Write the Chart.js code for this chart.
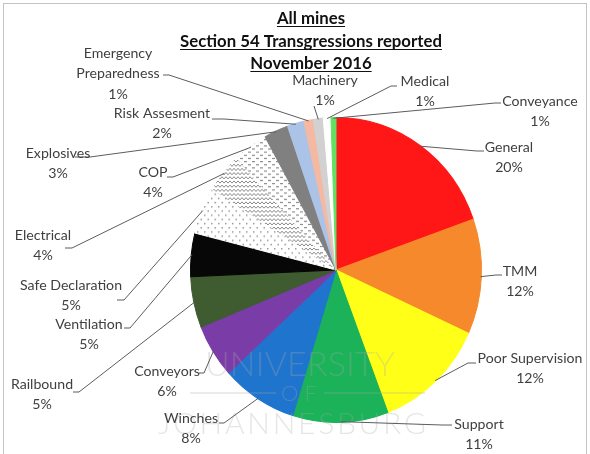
<!DOCTYPE html>
<html><head><meta charset="utf-8">
<script src="https://cdn.jsdelivr.net/npm/chart.js@4.4.0/dist/chart.umd.min.js"></script>
<style>
html,body{margin:0;padding:0;background:#fff;}
#wrap{position:relative;width:590px;height:454px;overflow:hidden;}
canvas{position:absolute;left:0;top:0;}
#frame{position:absolute;left:3px;top:3px;width:584px;height:480px;border:1px solid #c4c4c4;box-sizing:border-box;pointer-events:none;}
</style></head><body>
<div id="wrap"><canvas id="c" width="590" height="454"></canvas><div id="frame"></div></div>
<script>
// ---- data ----
const titleLines = ['All mines', 'Section 54 Transgressions reported', 'November 2016'];
const categories = ['General','TMM','Poor Supervision','Support','Winches','Conveyors','Railbound','Ventilation','Safe Declaration','Electrical','COP','Explosives','Risk Assesment','Emergency Preparedness','Machinery','Medical','Conveyance'];
const shares = [19.6, 12.2, 12.4, 10.6, 8.4, 5.7, 5.4, 4.6, 5.0, 4.2, 3.8, 2.7, 1.85, 1.05, 1.1, 0.85, 0.55];
const watermarkLines = ['UNIVERSITY', 'OF', 'JOHANNESBURG'];

// ---- styles ----
const sliceFills = ['#FF1616','#F6892C','#FFFF17','#1BB25A','#1F74CE','#7A3DA7','#3F5B30','#070707','dots','zigzag','dashes','#808080','#AAC3E6','#F5B8A3','#D1D1D1','#FFFFFF','#63E063'];
// label text placement (name centre) and leader attach point
const labelLayout = [
 {x:509,y:147,ax:484,ay:151,ex:-7},
 {x:520,y:271,ax:502,ay:275,ex:-6},
 {x:530,y:358,ax:476,ay:363,ex:-8},
 {x:479,y:424,ax:452,ay:425,ex:-10},
 {x:191,y:418,ax:219,ay:423,ex:5},
 {x:167,y:371,ax:199,ay:373,ex:5},
 {x:42,y:384,ax:73,ay:392,ex:6},
 {x:89,y:324,ax:124,ay:328,ex:6},
 {x:71,y:285,ax:117,ay:300,ex:7},
 {x:43,y:235,ax:65,ay:248,ex:7},
 {x:153,y:172,ax:167,ay:177,ex:6},
 {x:58,y:153,ax:75,ay:157,ex:15},
 {x:162,y:113,ax:212,ay:119,ex:12},
 {x:118,y:53,ax:163,ay:75,ex:6},
 {x:325,y:80,ax:314,ay:106,ex:0},
 {x:425,y:81,ax:397,ay:86,ex:-6},
 {x:540,y:101,ax:501,ay:103,ex:-6}
];
const SY = 1.048;        // vertical stretch of the pie in the reference
const LINE_H = 20.5;

function makePattern(kind){
  const c = document.createElement('canvas');
  const g = c.getContext('2d');
  if (kind === 'dots'){
    c.width = 7; c.height = 8;
    g.fillStyle = '#fff'; g.fillRect(0,0,7,8);
    g.fillStyle = '#8e8e8e';
    g.fillRect(1,1,1.4,1.4); g.fillRect(4.5,5,1.4,1.4);
  } else if (kind === 'zigzag'){
    c.width = 4; c.height = 4;
    g.fillStyle = '#fff'; g.fillRect(0,0,4,4);
    g.strokeStyle = '#7d7d7d'; g.lineWidth = 0.9;
    g.beginPath(); g.moveTo(0,3); g.lineTo(2,1); g.lineTo(4,3); g.stroke();
  } else {
    c.width = 8; c.height = 6;
    g.fillStyle = '#fff'; g.fillRect(0,0,8,6);
    g.fillStyle = '#8a8a8a';
    g.fillRect(0,1,3,1.1); g.fillRect(4,4,3,1.1);
  }
  return g.createPattern(c, 'repeat');
}
const fills = sliceFills.map(f => (f === 'dots' || f === 'zigzag' || f === 'dashes') ? makePattern(f) : f);

function fitSize(ctx, weight, family, text, target){
  ctx.font = weight + ' 100px ' + family;
  return 100 * target / ctx.measureText(text).width;
}

const stretch = {
  id: 'stretch',
  beforeDatasetsDraw(chart){
    const a = chart.getDatasetMeta(0).data[0];
    const ctx = chart.ctx;
    ctx.save();
    ctx.translate(0, a.y); ctx.scale(1, SY); ctx.translate(0, -a.y);
  },
  afterDatasetsDraw(chart){ chart.ctx.restore(); }
};

const overlay = {
  id: 'overlay',
  afterDraw(chart){
    const ctx = chart.ctx;
    const meta = chart.getDatasetMeta(0);
    const data = chart.data.datasets[0].data;
    const total = data.reduce((s,v)=>s+v,0);
    const fam = 'Lato, "Open Sans", sans-serif';

    // watermark
    ctx.save();
    ctx.fillStyle = 'rgba(170,170,170,0.30)';
    ctx.strokeStyle = 'rgba(170,170,170,0.30)';
    ctx.textAlign = 'left'; ctx.textBaseline = 'middle';
    const wm = [{t:watermarkLines[0], x:205, w:190, y:365, s:34},
                {t:watermarkLines[1], x:281, w:36, y:394, s:22},
                {t:watermarkLines[2], x:158, w:268, y:424, s:30}];
    wm.forEach(o => {
      ctx.font = '300 ' + o.s + 'px ' + fam;
      ctx.letterSpacing = '0px';
      const w0 = ctx.measureText(o.t).width;
      const sp = (o.w - w0) / Math.max(1, o.t.length - 1);
      ctx.letterSpacing = sp.toFixed(2) + 'px';
      ctx.fillText(o.t, o.x, o.y);
    });
    ctx.letterSpacing = '0px';
    ctx.lineWidth = 1.5;
    ctx.beginPath(); ctx.moveTo(190,393); ctx.lineTo(276,393); ctx.moveTo(324,393); ctx.lineTo(425,393); ctx.stroke();
    ctx.restore();

    // title
    ctx.save();
    const ts = fitSize(ctx, 'bold', fam, titleLines[1], 262);
    ctx.font = 'bold ' + ts.toFixed(2) + 'px ' + fam;
    ctx.fillStyle = '#111'; ctx.strokeStyle = '#111'; ctx.lineWidth = 1;
    ctx.textAlign = 'center'; ctx.textBaseline = 'middle';
    const tys = [19, 41.5, 63.5];
    titleLines.forEach((t,i) => {
      ctx.fillText(t, 311, tys[i]);
      const w = ctx.measureText(t).width;
      ctx.beginPath(); ctx.moveTo(311 - w/2, Math.round(tys[i] + 7) + 0.5); ctx.lineTo(311 + w/2, Math.round(tys[i] + 7) + 0.5); ctx.stroke();
    });
    ctx.restore();

    // leader lines
    ctx.save();
    ctx.strokeStyle = '#5c5c5c'; ctx.lineWidth = 1;
    meta.data.forEach((arc, i) => {
      const L = labelLayout[i];
      const mid = (arc.startAngle + arc.endAngle) / 2;
      const r = arc.outerRadius * 0.995;
      const ex = arc.x + r * Math.cos(mid);
      const ey = arc.y + r * Math.sin(mid) * SY;
      ctx.beginPath();
      ctx.moveTo(L.ax, L.ay);
      if (L.ex) ctx.lineTo(L.ax + L.ex, L.ay);
      ctx.lineTo(ex, ey);
      ctx.stroke();
    });
    ctx.restore();

    // labels
    ctx.save();
    const ls = fitSize(ctx, 'normal', fam, 'Poor Supervision', 105);
    ctx.font = ls.toFixed(2) + 'px ' + fam;
    ctx.fillStyle = '#3f3f3f';
    ctx.textAlign = 'center'; ctx.textBaseline = 'middle';
    categories.forEach((name, i) => {
      const L = labelLayout[i];
      const lines = name.length > 18 ? [name.slice(0, name.indexOf(' ')), name.slice(name.indexOf(' ') + 1)] : [name];
      lines.push(Math.round(data[i] / total * 100) + '%');
      lines.forEach((t, k) => ctx.fillText(t, L.x, L.y + k * LINE_H));
    });
    ctx.restore();
  }
};

new Chart(document.getElementById('c').getContext('2d'), {
  type: 'pie',
  data: {
    labels: categories,
    datasets: [{ data: shares, backgroundColor: fills, borderColor: fills, borderWidth: 1 }]
  },
  options: {
    responsive: false,
    animation: false,
    layout: { padding: { left: 190, right: 108, top: 124, bottom: 38 } },
    plugins: { legend: { display: false }, title: { display: false }, tooltip: { enabled: false } }
  },
  plugins: [stretch, overlay]
});
</script>
</body></html>
